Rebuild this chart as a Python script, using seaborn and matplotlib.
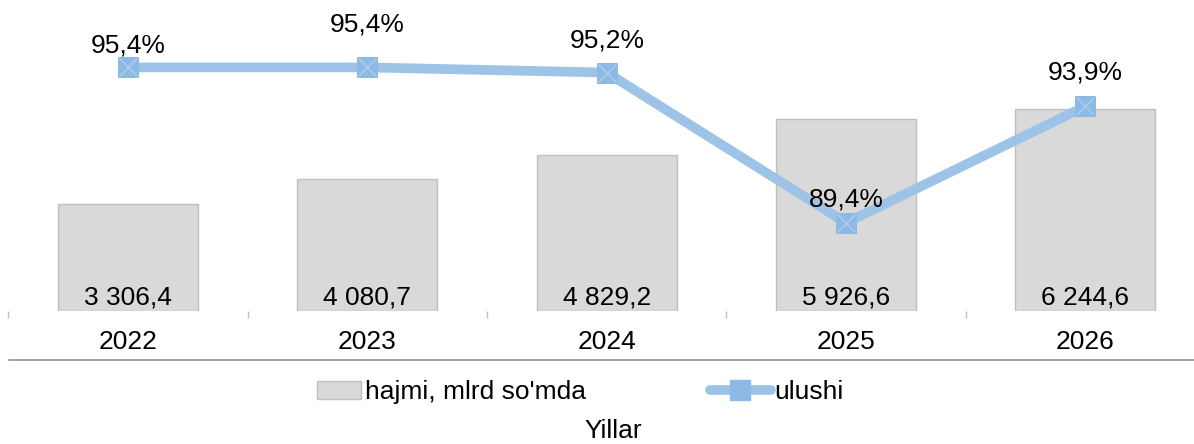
import numpy as np
import pandas as pd
import matplotlib.pyplot as plt
import seaborn as sns
from matplotlib.lines import Line2D
from matplotlib.patches import Patch, Rectangle
from matplotlib.legend_handler import HandlerPatch

years = ["2022", "2023", "2024", "2025", "2026"]
volume = [3306.4, 4080.7, 4829.2, 5926.6, 6244.6]
share = [95.4, 95.4, 95.2, 89.4, 93.9]
bar_name = "hajmi, mlrd so'mda"
line_name = "ulushi"
axis_title = "Yillar"

# label offsets above the line points (points), placed by hand in the original
pct_offsets = [16, 31, 23, 17, 24]

df = pd.DataFrame({"year": years, "volume": volume, "share": share})

sns.set_theme(style="white")
plt.rcParams["font.family"] = ["Liberation Sans", "DejaVu Sans"]
FS = 19

bar_color = "#d9d9d9"
bar_edge = "#bfbfbf"
line_color = "#9dc3e6"
marker_color = "#8db9e5"

fig = plt.figure(figsize=(11.94, 4.44), dpi=100)
ax = fig.add_axes([0, 133 / 444, 1, 311 / 444])

sns.barplot(data=df, x="year", y="volume", color=bar_color, saturation=1,
            edgecolor=bar_edge, linewidth=1, width=0.585, ax=ax)
ax.set_ylim(0, 9600)

for i, v in enumerate(volume):
    txt = f"{v:,.1f}".replace(",", " ").replace(".", ",")
    ax.annotate(txt, xy=(i, 0), xytext=(0, 10), textcoords="offset points",
                ha="center", va="center", fontsize=FS, color="black")

ax2 = ax.twinx()
xs = np.arange(len(years))
sns.lineplot(x=xs, y=share, ax=ax2, color=line_color, linewidth=7,
             marker="s", markersize=15, markerfacecolor=marker_color,
             markeredgecolor=marker_color)
ax2.plot(xs, share, ls="none", marker="x", markersize=13,
         markeredgecolor="#b5d1ef", markeredgewidth=0.8)
ax2.set_ylim(86, 98)

for i, (v, dy) in enumerate(zip(share, pct_offsets)):
    ax2.annotate(f"{v:.1f}%".replace(".", ","), xy=(i, v), xytext=(0, dy),
                 textcoords="offset points", ha="center", va="center",
                 fontsize=FS, color="black")

for a in (ax, ax2):
    for s in a.spines.values():
        s.set_visible(False)
ax2.set_yticks([])
ax.set_yticks([])
ax.set_xlabel("")
ax.set_ylabel("")
ax.set_xticks(np.arange(-0.5, len(years)), minor=True)
ax.tick_params(axis="x", which="major", length=0, pad=14, labelsize=FS,
               labelcolor="black")
ax.tick_params(axis="x", which="minor", length=5, width=1, color="#bfbfbf",
               bottom=True, direction="out")
ax.set_xlim(-0.5355, 4.454)

fig.add_artist(Line2D([8.5 / 1194, 1], [1 - 360 / 444] * 2,
                      color="#a6a6a6", lw=1.5))


def short_patch(legend, orig_handle, xdescent, ydescent, width, height, fontsize):
    w = width * 0.72
    return Rectangle((-xdescent + (width - w), -ydescent), w, height)


handles = [
    Patch(facecolor=bar_color, edgecolor=bar_edge, linewidth=1),
    Line2D([], [], color=line_color, lw=7, marker="s", markersize=15,
           markerfacecolor=marker_color, markeredgecolor=marker_color,
           solid_capstyle="round"),
]
fig.legend(handles, [bar_name, line_name], loc="center",
           bbox_to_anchor=(572 / 1194, 1 - 392 / 444), ncol=2, frameon=False,
           fontsize=FS, labelcolor="black", handlelength=2.3,
           handletextpad=0.15, columnspacing=4.7, borderpad=0,
           handler_map={Patch: HandlerPatch(patch_func=short_patch)})

fig.text(613 / 1194, 1 - 443 / 444, axis_title, ha="center", va="bottom",
         fontsize=FS, color="black")

fig.savefig("out.png", dpi=100)
